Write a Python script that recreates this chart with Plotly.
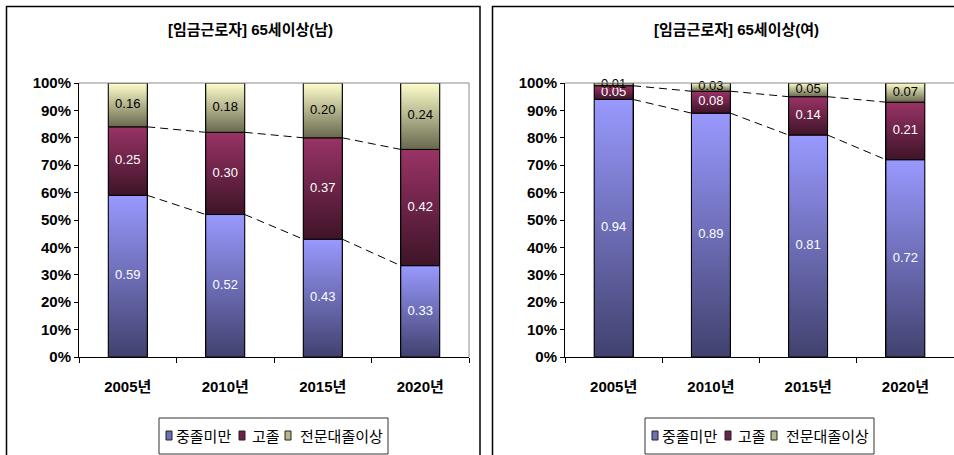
import plotly.graph_objects as go

# ---- data -------------------------------------------------------------
years = ["2005년", "2010년", "2015년", "2020년"]
series_names = ["중졸미만", "고졸", "전문대졸이상"]
panel_titles = ["[임금근로자] 65세이상(남)", "[임금근로자] 65세이상(여)"]

male_below_middle = [0.59, 0.52, 0.43, 0.33]
male_high_school = [0.25, 0.30, 0.37, 0.42]
male_college = [0.16, 0.18, 0.20, 0.24]

female_below_middle = [0.94, 0.89, 0.81, 0.72]
female_high_school = [0.05, 0.08, 0.14, 0.21]
female_college = [0.01, 0.03, 0.05, 0.07]

y_ticks = [i / 10 for i in range(11)]

# ---- styling ----------------------------------------------------------
W, H = 954, 455
BAR_W = 0.4
# (bottom colour, top colour, flat colour, label colour) per series
series_style = [
    ("#41416e", "#9999ff", "#6f6fb8", "white"),
    ("#3e1428", "#993366", "#6a2347", "white"),
    ("#68684f", "#ffffcc", "#b5b58e", "black"),
]
LATIN = "Arial, 'Liberation Sans', 'Noto Sans CJK KR', sans-serif"
KOREAN = "Arial, 'Noto Sans CJK KR', sans-serif"


def px(x):
    return x / W


def py(y):
    return 1 - y / H


panels = [
    (male_below_middle, male_high_school, male_college),
    (female_below_middle, female_high_school, female_college),
]
panel_dx = [0, 486]

fig = go.Figure()
shapes = []
annotations = []

for p, (series, dx) in enumerate(zip(panels, panel_dx)):
    xa = "x" if p == 0 else "x2"
    ya = "y" if p == 0 else "y2"
    totals = [sum(v) for v in zip(*series)]
    shares = [[v / t for v, t in zip(vals, totals)] for vals in series]
    xs = list(range(len(years)))

    # cumulative boundaries of each stacked segment
    bounds = [[0.0] * len(years)]
    for s in shares:
        bounds.append([b + v for b, v in zip(bounds[-1], s)])

    # stacked bars
    for k, vals in enumerate(series):
        fig.add_trace(go.Bar(
            x=xs, y=vals, width=BAR_W, name=series_names[k],
            marker=dict(color=series_style[k][2], line=dict(color="black", width=1)),
            xaxis=xa, yaxis=ya, showlegend=False, hoverinfo="skip",
        ))

    # vertical gradient shading on every segment
    for k in range(len(series)):
        bottom_c, top_c = series_style[k][0], series_style[k][1]
        for i in xs:
            y0, y1 = bounds[k][i], bounds[k + 1][i]
            x0, x1 = i - BAR_W / 2, i + BAR_W / 2
            fig.add_trace(go.Scatter(
                x=[x0, x1, x1, x0, x0], y=[y0, y0, y1, y1, y0],
                mode="lines", fill="toself",
                fillgradient=dict(type="vertical",
                                  colorscale=[[0, bottom_c], [1, top_c]],
                                  start=y0, stop=y1),
                line=dict(color="black", width=1),
                xaxis=xa, yaxis=ya, showlegend=False, hoverinfo="skip",
            ))

    # dashed series lines between neighbouring bars
    for k in (1, 2):
        lx, ly = [], []
        for i in xs[:-1]:
            lx += [i + BAR_W / 2, i + 1 - BAR_W / 2, None]
            ly += [bounds[k][i], bounds[k][i + 1], None]
        fig.add_trace(go.Scatter(
            x=lx, y=ly, mode="lines",
            line=dict(color="black", width=1, dash="8px,5px"),
            xaxis=xa, yaxis=ya, showlegend=False, hoverinfo="skip",
        ))

    # value labels in the middle of each segment
    for k, vals in enumerate(series):
        fig.add_trace(go.Scatter(
            x=xs, y=[(bounds[k][i] + bounds[k + 1][i]) / 2 for i in xs],
            mode="text", text=[f"{v:.2f}" for v in vals], cliponaxis=False,
            textfont=dict(family=LATIN, size=13, color=series_style[k][3]),
            xaxis=xa, yaxis=ya, showlegend=False, hoverinfo="skip",
        ))

    x_dom = [px(79 + dx), min(px(469 + dx), 1.0)]
    y_dom = [py(357), py(83)]
    xkey = "xaxis" if p == 0 else "xaxis2"
    ykey = "yaxis" if p == 0 else "yaxis2"
    fig.update_layout(**{
        xkey: dict(
            domain=x_dom, anchor=ya, range=[-0.5, 3.5], automargin=False,
            tickmode="array", tickvals=xs, ticktext=years,
            ticks="", showgrid=False, zeroline=False,
            showline=True, linecolor="black", linewidth=1,
            tickfont=dict(family=KOREAN, size=15, color="black", weight="bold"),
            ticklabelstandoff=16,
            minor=dict(tickmode="array", tickvals=[-0.5, 0.5, 1.5, 2.5, 3.5],
                       ticks="outside", ticklen=5, tickcolor="black", tickwidth=1),
            fixedrange=True,
        ),
        ykey: dict(
            domain=y_dom, anchor=xa, range=[0, 1], automargin=False,
            tickmode="array", tickvals=y_ticks, tickformat=".0%",
            ticks="outside", ticklen=4, tickcolor="black", tickwidth=1,
            showgrid=False, zeroline=False,
            showline=True, linecolor="black", linewidth=1,
            tickfont=dict(family=LATIN, size=15, color="black", weight="bold"),
            fixedrange=True,
        ),
    })

    # thin grey frame on top / right of the plot area
    shapes.append(dict(type="line", xref=f"{xa} domain", yref=f"{ya} domain",
                       x0=0, x1=1, y0=1, y1=1, line=dict(color="#8c8c8c", width=1)))
    if p == 0:
        shapes.append(dict(type="line", xref=f"{xa} domain", yref=f"{ya} domain",
                           x0=1, x1=1, y0=0, y1=1, line=dict(color="#8c8c8c", width=1)))

    # chart border
    shapes.append(dict(type="rect", xref="paper", yref="paper",
                       x0=px(6.5 + dx), x1=px(480 + dx), y0=py(475), y1=py(6.5),
                       line=dict(color="black", width=1.5), fillcolor="rgba(0,0,0,0)"))

    # title
    annotations.append(dict(
        text=f"<b>{panel_titles[p]}</b>", xref="paper", yref="paper",
        x=px(250 + dx), y=py(30), xanchor="center", yanchor="middle",
        showarrow=False, font=dict(family=KOREAN, size=15, color="black"),
    ))

    # legend box with small swatches
    shapes.append(dict(type="rect", xref="paper", yref="paper",
                       x0=px(159 + dx), x1=px(388 + dx), y0=py(454), y1=py(418),
                       line=dict(color="#333333", width=1), fillcolor="white"))
    legend_slots = [(166, 174), (239, 250), (285, 298)]
    for k, (sx, tx) in enumerate(legend_slots):
        shapes.append(dict(type="rect", xref="paper", yref="paper",
                           x0=px(sx + dx), x1=px(sx + 6 + dx), y0=py(440), y1=py(431),
                           line=dict(color="#222222", width=1),
                           fillcolor=series_style[k][2]))
        annotations.append(dict(
            text=series_names[k], xref="paper", yref="paper",
            x=px(tx + dx), y=py(436), xanchor="left", yanchor="middle",
            showarrow=False, font=dict(family=KOREAN, size=15, color="black"),
        ))

fig.update_layout(
    width=W, height=H, margin=dict(l=0, r=0, t=0, b=0, autoexpand=False),
    barmode="stack", barnorm="fraction",
    plot_bgcolor="white", paper_bgcolor="white",
    showlegend=False, shapes=shapes, annotations=annotations,
)

fig.write_html("out.html")
